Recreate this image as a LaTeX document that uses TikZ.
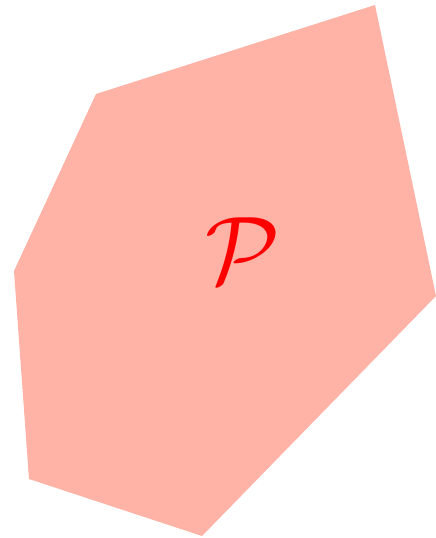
\documentclass[tikz,border=0pt]{standalone}
\usepackage{amsmath}
\definecolor{salmonfill}{RGB}{255,178,166}
\begin{document}
\begin{tikzpicture}[line join=round,line cap=round,x=0.02cm,y=-0.02cm]
				\useasboundingbox (0,0) rectangle (436,538);
				\coordinate (A) at (96,94);
				\coordinate (B) at (375,5);
				\coordinate (C) at (436,296);
				\coordinate (D) at (202,536);
				\coordinate (E) at (29,479);
				\coordinate (F) at (14,271);
				\fill[salmonfill] (A) -- (B) -- (C) -- (D) -- (E) -- (F) -- cycle;
				\node[text=red,font=\Huge,scale=2.2] (P) at (243,251) {$\mathcal{P}$};
		\end{tikzpicture}
\end{document}
